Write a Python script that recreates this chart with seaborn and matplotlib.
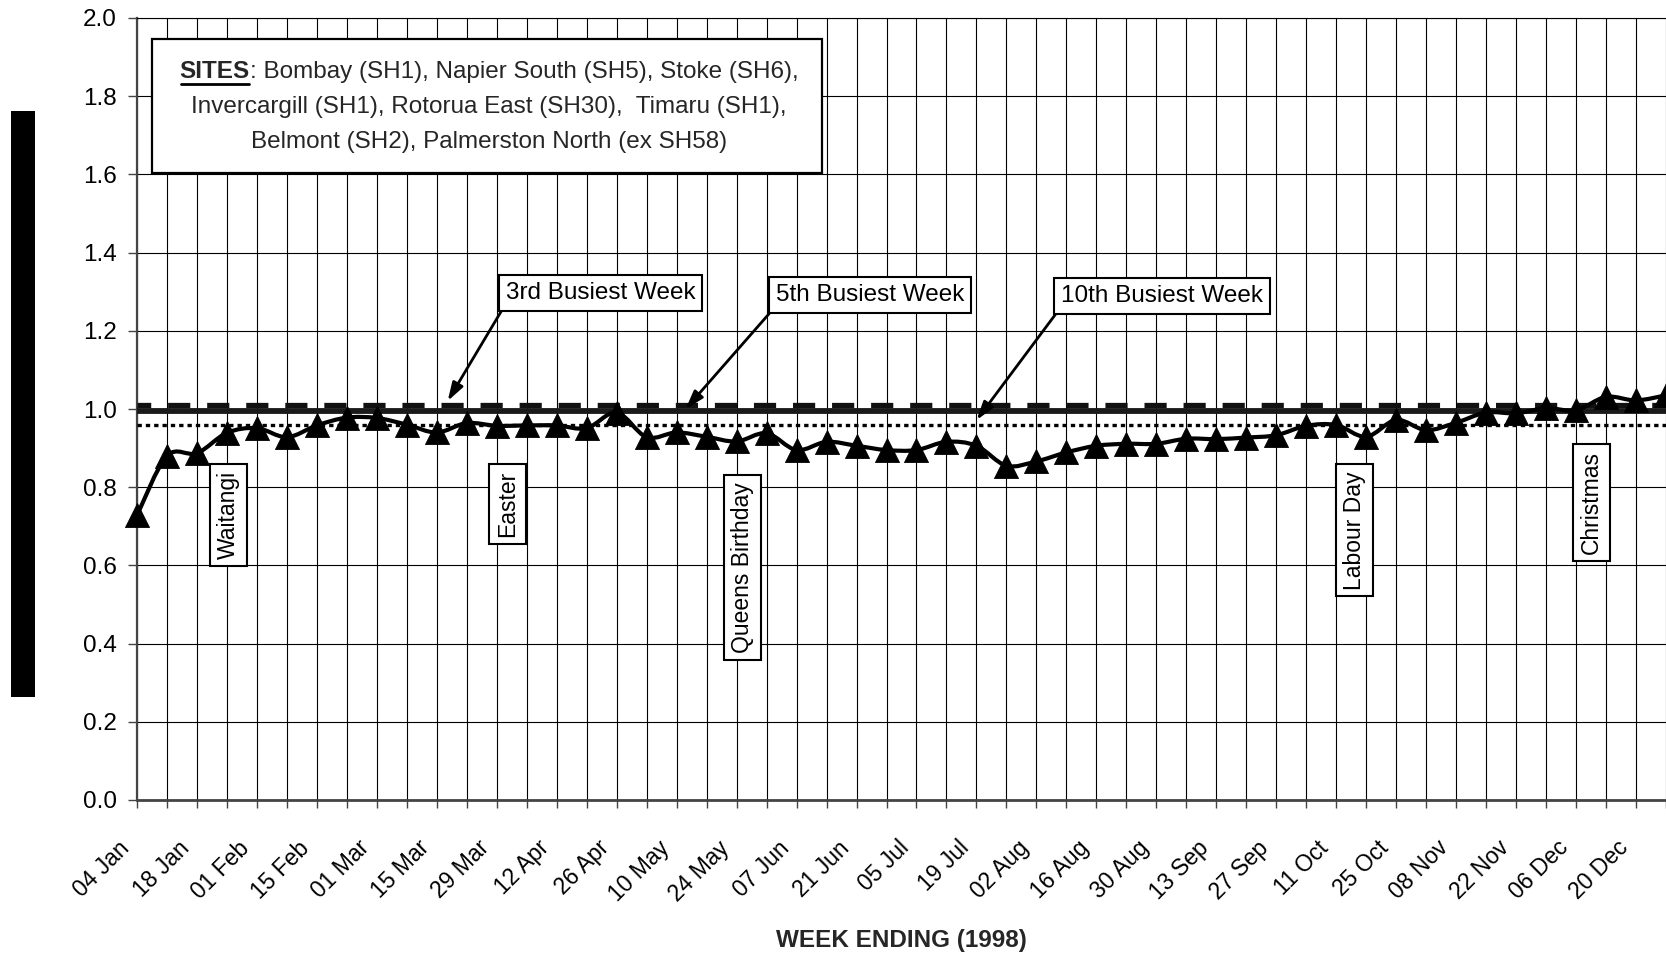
import numpy as np
import matplotlib
matplotlib.use("Agg")
import matplotlib.pyplot as plt
import seaborn as sns
from matplotlib.path import Path
from matplotlib.patches import PathPatch, Rectangle
from matplotlib.lines import Line2D
from matplotlib.ticker import FormatStrFormatter
from matplotlib.transforms import ScaledTranslation

# ---------------- data ----------------
week_index = list(range(52))
tick_labels = ["04 Jan", "18 Jan", "01 Feb", "15 Feb", "01 Mar", "15 Mar", "29 Mar",
               "12 Apr", "26 Apr", "10 May", "24 May", "07 Jun", "21 Jun", "05 Jul",
               "19 Jul", "02 Aug", "16 Aug", "30 Aug", "13 Sep", "27 Sep", "11 Oct",
               "25 Oct", "08 Nov", "22 Nov", "06 Dec", "20 Dec"]
flow_ratio = [0.728, 0.880, 0.887, 0.939, 0.951, 0.928, 0.958, 0.978, 0.977, 0.960,
              0.940, 0.964, 0.957, 0.958, 0.958, 0.951, 0.991, 0.928, 0.940, 0.929,
              0.917, 0.938, 0.895, 0.916, 0.906, 0.895, 0.895, 0.916, 0.906, 0.855,
              0.866, 0.889, 0.906, 0.911, 0.911, 0.924, 0.923, 0.927, 0.933, 0.957,
              0.959, 0.929, 0.972, 0.946, 0.965, 0.991, 0.989, 1.002, 0.997, 1.031,
              1.022, 1.035]
third_busiest = 1.010
fifth_busiest = 0.996
tenth_busiest = 0.960
holiday_names = ["Waitangi", "Easter", "Queens Birthday", "Labour Day", "Christmas"]
busiest_names = ["3rd Busiest Week", "5th Busiest Week", "10th Busiest Week"]
sites_line1_bold = "SITES"
sites_line1_rest = ": Bombay (SH1), Napier South (SH5), Stoke (SH6),"
sites_line2 = "Invercargill (SH1), Rotorua East (SH30),  Timaru (SH1),"
sites_line3 = "Belmont (SH2), Palmerston North (ex SH58)"
x_title = "WEEK ENDING (1998)"

# ---------------- style ----------------
sns.set_style("ticks")
plt.rcParams["font.family"] = ["Liberation Sans", "DejaVu Sans"]

W, H = 1666, 960
fig = plt.figure(figsize=(W / 100, H / 100), dpi=100)
fig.patch.set_facecolor("white")

def fx(px):
    return px / W

def fy(py):
    return 1 - py / H

ax_left, ax_right, ax_top, ax_bot = 137, 1666, 18, 800
ax = fig.add_axes([fx(ax_left), fy(ax_bot), fx(ax_right - ax_left), (ax_bot - ax_top) / H])
ax.set_facecolor("white")

px_per_week = 30.04
ax.set_xlim(0, (ax_right - ax_left) / px_per_week)
ax.set_ylim(0, 2.0)

# reference lines
ax.axhline(third_busiest, color="#111111", lw=3.8, ls=(1.6, (4.2, 3.2)), zorder=3)
ax.axhline(fifth_busiest, color="#1a1a1a", lw=4.2, zorder=3)
ax.axhline(tenth_busiest, color="black", lw=2.4, ls=(0, (1.3, 1.2)), zorder=3)

# smoothed data line (Bezier through the data points)
xs = np.asarray(week_index, dtype=float)
ys = np.asarray(flow_ratio, dtype=float)
n = len(xs)
verts = [(xs[0], ys[0])]
codes = [Path.MOVETO]
for i in range(n - 1):
    a = max(i - 1, 0)
    b = min(i + 2, n - 1)
    c1 = (xs[i] + (xs[i + 1] - xs[a]) / 6, ys[i] + (ys[i + 1] - ys[a]) / 6)
    c2 = (xs[i + 1] - (xs[b] - xs[i]) / 6, ys[i + 1] - (ys[b] - ys[i]) / 6)
    verts += [c1, c2, (xs[i + 1], ys[i + 1])]
    codes += [Path.CURVE4] * 3
ax.add_patch(PathPatch(Path(verts, codes), fill=False, ec="black", lw=3.0, zorder=5,
                       capstyle="round", joinstyle="round"))

sns.scatterplot(x=week_index, y=flow_ratio, marker="^", s=300, color="black",
                edgecolor="black", linewidth=0.6, zorder=6, ax=ax, legend=False,
                clip_on=False)

# ---------------- axes / grid ----------------
ax.set_yticks(np.arange(0, 2.01, 0.2))
ax.yaxis.set_major_formatter(FormatStrFormatter("%.1f"))
ax.set_xticks(list(range(0, 51, 2)))
ax.set_xticklabels(tick_labels)
ax.set_xticks(list(range(1, 52, 2)), minor=True)
ax.set_axisbelow(True)
ax.grid(True, axis="x", which="both", color="black", lw=0.8)
ax.grid(True, axis="y", which="major", color="black", lw=0.8)

ax.tick_params(axis="y", which="major", length=6.5, width=1.0, color="#444444",
               labelsize=17.5, pad=8, labelcolor="black")
ax.tick_params(axis="x", which="both", length=6, width=1.0, color="#444444",
               direction="out")
ax.tick_params(axis="x", which="major", labelsize=16.5, pad=26, labelcolor="black")

ax.spines["right"].set_visible(False)
ax.spines["top"].set_color("black")
ax.spines["top"].set_linewidth(0.8)
ax.spines["left"].set_color("#444444")
ax.spines["left"].set_linewidth(1.6)
ax.spines["bottom"].set_color("#444444")
ax.spines["bottom"].set_linewidth(2.0)

ax.set_xlabel(x_title, fontsize=17.5, fontweight="bold")
ax.xaxis.set_label_coords(0.5, (ax_bot - 941) / (ax_bot - ax_top))
ax.xaxis.label.set_va("center")
ax.set_ylabel("")

# ---------------- holiday labels ----------------
def week_from_px(px):
    return (px - ax_left) / px_per_week

def val_from_py(py):
    return (ax_bot - py) / (ax_bot - ax_top) * 2.0

holiday_layout = [(228.5, 471), (508.5, 471), (743.7, 482), (1356.7, 471), (1594.5, 451)]
for name, (cx, top) in zip(holiday_names, holiday_layout):
    ax.text(week_from_px(cx), val_from_py(top), name, rotation=90, ha="center", va="top",
            fontsize=16.5, color="black", zorder=7,
            bbox=dict(boxstyle="square,pad=0.3", fc="white", ec="black", lw=1.5))

# ---------------- busiest week call-outs ----------------
busiest_layout = [((601.3, 293.0), (448.3, 401.0)),
                  ((871.5, 295.0), (686.7, 409.0)),
                  ((1164.0, 296.0), (978.3, 420.0))]
for name, ((tx, ty), (hx, hy)) in zip(busiest_names, busiest_layout):
    ax.annotate(name, xy=(week_from_px(hx), val_from_py(hy)),
                xytext=(week_from_px(tx), val_from_py(ty)),
                ha="center", va="center", fontsize=17.5, color="black", zorder=8,
                bbox=dict(boxstyle="square,pad=0.28", fc="white", ec="black", lw=1.5),
                arrowprops=dict(arrowstyle="-|>,head_length=1.1,head_width=0.35",
                                mutation_scale=10, color="black", lw=2.0,
                                relpos=(0, 0), shrinkA=0, shrinkB=0))

# ---------------- sites box ----------------
fig.add_artist(Rectangle((fx(152), fy(173)), fx(822 - 152), (173 - 39) / H,
                         transform=fig.transFigure, fc="white", ec="black", lw=1.6,
                         zorder=3))
renderer = fig.canvas.get_renderer()
tb = fig.text(0, fy(78), sites_line1_bold, fontsize=17.5, fontweight="bold",
              va="baseline", ha="left", zorder=4)
tr = fig.text(0, fy(78), sites_line1_rest, fontsize=17.5, va="baseline", ha="left",
              zorder=4)
wb = tb.get_window_extent(renderer).width
wr = tr.get_window_extent(renderer).width
cx = 489
start = cx - (wb + wr) / 2
tb.set_x(fx(start))
tr.set_x(fx(start + wb))
fig.add_artist(Line2D([fx(start + 1), fx(start + wb - 1)], [fy(83.5), fy(83.5)],
                      transform=fig.transFigure, color="black", lw=2.0, zorder=4))
fig.text(fx(cx), fy(113), sites_line2, fontsize=17.5, va="baseline", ha="center", zorder=4)
fig.text(fx(cx), fy(148), sites_line3, fontsize=17.5, va="baseline", ha="center", zorder=4)

# black bar at left
fig.add_artist(Rectangle((fx(11), fy(697)), fx(24), (697 - 111) / H,
                         transform=fig.transFigure, fc="black", ec="none", zorder=2))

# x tick label orientation
shift = ScaledTranslation(-11 / 100, 0, fig.dpi_scale_trans)
for lbl in ax.get_xticklabels():
    lbl.set_rotation(45)
    lbl.set_ha("right")
    lbl.set_va("center")
    lbl.set_rotation_mode("anchor")
    lbl.set_transform(lbl.get_transform() + shift)

fig.savefig("out.png", dpi=100, facecolor="white")
